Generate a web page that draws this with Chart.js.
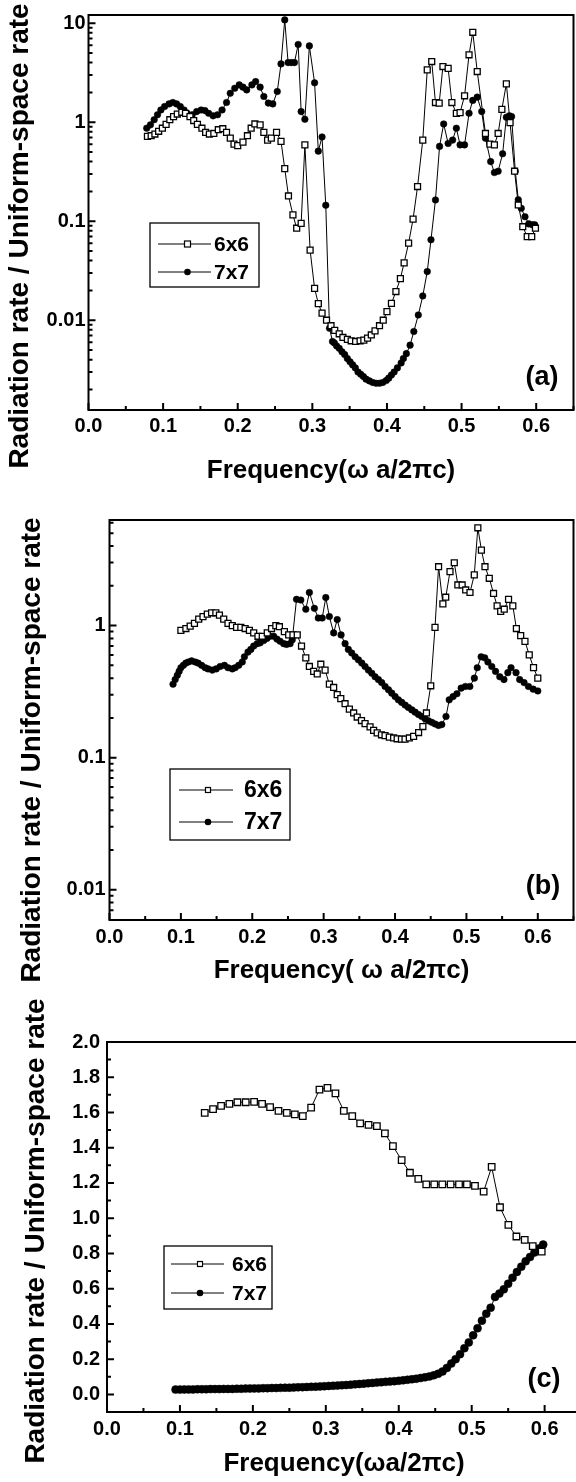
<!DOCTYPE html>
<html>
<head>
<meta charset="utf-8">
<script src="https://cdn.jsdelivr.net/npm/chart.js@4"></script>
<style>
html, body { margin: 0; padding: 0; background: #fff; width: 576px; height: 1482px; overflow: hidden; }
canvas { position: absolute; left: 0; }
</style>
</head>
<body>
<canvas id="pa" width="579" height="490" style="top:0px"></canvas>
<canvas id="pb" width="579" height="500" style="top:490px"></canvas>
<canvas id="pc" width="587" height="492" style="top:990px"></canvas>
<script>
// tick labels
var freqTicks = [0, 0.1, 0.2, 0.3, 0.4, 0.5, 0.6];
var logTicksA = [0.01, 0.1, 1, 10];
var logTicksB = [0.01, 0.1, 1];
var rateTicksC = [0, 0.2, 0.4, 0.6, 0.8, 1.0, 1.2, 1.4, 1.6, 1.8, 2.0];
var seriesNames = ['6x6', '7x7'];

// panel (a) [frequency, rate]
var a6x6 = [[0.079,0.72],[0.084,0.73],[0.089,0.76],[0.094,0.81],[0.099,0.87],[0.104,0.95],[0.109,1.06],[0.114,1.14],[0.119,1.21],[0.125,1.26],
  [0.130,1.23],[0.136,1.14],[0.141,1.04],[0.146,0.95],[0.152,0.87],[0.157,0.79],[0.162,0.76],[0.168,0.77],[0.174,0.84],[0.180,0.86],
  [0.185,0.79],[0.190,0.69],[0.195,0.60],[0.200,0.58],[0.207,0.63],[0.213,0.73],[0.218,0.87],[0.223,0.96],[0.230,0.94],[0.235,0.79],
  [0.240,0.66],[0.245,0.69],[0.252,0.79],[0.258,0.64],[0.263,0.34],[0.268,0.18],[0.274,0.116],[0.279,0.085],[0.285,0.095],[0.290,0.59],
  [0.297,0.051],[0.303,0.021],[0.308,0.0147],[0.313,0.0118],[0.319,0.0100],[0.325,0.0088],[0.330,0.0079],[0.336,0.0073],[0.341,0.0067],[0.347,0.0064],
  [0.352,0.0062],[0.358,0.0061],[0.364,0.0062],[0.369,0.0063],[0.374,0.0066],[0.379,0.0071],[0.384,0.0078],[0.390,0.0088],[0.395,0.0100],[0.400,0.0122],
  [0.406,0.0148],[0.412,0.0195],[0.418,0.0263],[0.423,0.038],[0.429,0.060],[0.435,0.105],[0.441,0.224],[0.448,0.66],[0.454,3.38],[0.460,4.1],
  [0.465,1.58],[0.470,1.56],[0.475,3.65],[0.482,3.5],[0.487,1.58],[0.493,1.23],[0.498,1.25],[0.504,1.85],[0.510,4.8],[0.515,8.1],
  [0.521,3.25],[0.532,0.77],[0.538,0.60],[0.544,0.59],[0.549,0.77],[0.554,1.35],[0.560,2.44],[0.565,0.99],[0.571,0.32],[0.576,0.146],
  [0.582,0.088],[0.588,0.070],[0.594,0.070],[0.599,0.085]];
var a7x7 = [[0.078,0.87],[0.083,0.94],[0.088,1.06],[0.0925,1.19],[0.097,1.33],[0.102,1.44],[0.108,1.53],[0.113,1.58],[0.118,1.53],[0.123,1.44],
  [0.128,1.33],[0.132,1.23],[0.139,1.19],[0.145,1.28],[0.151,1.33],[0.156,1.31],[0.161,1.23],[0.167,1.16],[0.173,1.19],[0.179,1.33],
  [0.185,1.58],[0.190,1.96],[0.196,2.2],[0.202,2.38],[0.207,2.26],[0.212,2.12],[0.219,2.38],[0.224,2.57],[0.230,2.26],[0.235,1.82],
  [0.241,1.56],[0.247,1.53],[0.253,2.04],[0.258,3.88],[0.263,10.8],[0.2675,4.0],[0.272,4.0],[0.276,4.0],[0.281,6.1],[0.285,1.28],
  [0.290,1.07],[0.296,5.9],[0.303,2.5],[0.308,0.51],[0.313,0.71],[0.318,0.145],[0.323,0.0083],[0.327,0.0061],[0.3295,0.0059],[0.3325,0.0055],
  [0.336,0.0052],[0.3397,0.0048],[0.3433,0.0045],[0.3469,0.0041],[0.3505,0.0038],[0.354,0.00354],[0.3576,0.0033],[0.3612,0.0030],[0.3648,0.00285],[0.3684,0.0027],
  [0.372,0.00254],[0.3764,0.00244],[0.381,0.00235],[0.3854,0.00231],[0.390,0.00231],[0.3943,0.00235],[0.399,0.00246],[0.4024,0.0026],[0.406,0.0028],[0.4096,0.0030],
  [0.414,0.0033],[0.419,0.0037],[0.422,0.0041],[0.426,0.0046],[0.431,0.0056],[0.436,0.0077],[0.442,0.0113],[0.448,0.0176],[0.454,0.031],[0.459,0.065],
  [0.465,0.164],[0.4705,0.57],[0.476,0.96],[0.482,0.61],[0.488,0.66],[0.493,0.87],[0.498,0.59],[0.504,0.59],[0.510,1.23],[0.515,1.66],
  [0.521,1.79],[0.527,1.28],[0.532,0.69],[0.539,0.40],[0.544,0.31],[0.549,0.32],[0.555,0.48],[0.560,1.12],[0.564,1.16],[0.567,1.14],
  [0.572,0.32],[0.576,0.165],[0.580,0.135],[0.585,0.111],[0.590,0.094],[0.595,0.092],[0.598,0.092]];

// panel (b)
var b6x6 = [[0.100,0.92],[0.107,0.95],[0.113,0.99],[0.119,1.04],[0.125,1.12],[0.131,1.17],[0.137,1.22],[0.143,1.25],[0.149,1.25],[0.154,1.20],
  [0.160,1.12],[0.166,1.04],[0.172,1.00],[0.178,0.97],[0.184,0.97],[0.190,0.95],[0.196,0.92],[0.202,0.88],[0.208,0.83],[0.214,0.83],
  [0.221,0.88],[0.227,0.95],[0.233,1.00],[0.238,0.98],[0.245,0.90],[0.251,0.85],[0.257,0.85],[0.263,0.85],[0.269,0.70],[0.275,0.57],
  [0.280,0.49],[0.286,0.45],[0.291,0.43],[0.296,0.51],[0.302,0.46],[0.308,0.36],[0.314,0.34],[0.319,0.30],[0.324,0.28],[0.330,0.256],
  [0.336,0.233],[0.342,0.218],[0.347,0.203],[0.353,0.191],[0.358,0.181],[0.365,0.171],[0.370,0.161],[0.375,0.154],[0.381,0.149],[0.386,0.147],
  [0.392,0.143],[0.398,0.141],[0.403,0.139],[0.409,0.138],[0.414,0.138],[0.420,0.141],[0.426,0.145],[0.433,0.155],[0.439,0.172],[0.444,0.218],
  [0.450,0.35],[0.456,0.97],[0.461,2.79],[0.467,1.46],[0.471,1.64],[0.477,2.56],[0.483,2.99],[0.488,2.03],[0.494,2.03],[0.499,1.86],
  [0.505,1.78],[0.511,2.42],[0.516,5.5],[0.521,3.73],[0.526,2.79],[0.532,2.28],[0.538,1.75],[0.543,1.41],[0.548,1.28],[0.553,1.33],
  [0.559,1.58],[0.565,1.41],[0.570,0.95],[0.576,0.84],[0.582,0.76],[0.588,0.60],[0.594,0.48],[0.600,0.40]];
var b7x7 = [[0.089,0.36],[0.092,0.39],[0.095,0.42],[0.0975,0.45],[0.100,0.48],[0.1035,0.50],[0.107,0.52],[0.1105,0.53],[0.115,0.54],[0.120,0.53],
  [0.124,0.52],[0.129,0.50],[0.134,0.48],[0.138,0.47],[0.144,0.46],[0.1495,0.47],[0.155,0.49],[0.161,0.50],[0.166,0.48],[0.172,0.47],
  [0.176,0.48],[0.181,0.50],[0.186,0.53],[0.189,0.58],[0.194,0.63],[0.198,0.66],[0.202,0.70],[0.207,0.73],[0.211,0.74],[0.216,0.77],
  [0.2205,0.80],[0.225,0.83],[0.230,0.83],[0.2345,0.79],[0.239,0.76],[0.244,0.73],[0.248,0.72],[0.253,0.73],[0.256,0.78],[0.262,1.58],
  [0.268,1.56],[0.275,1.33],[0.280,1.78],[0.287,1.35],[0.2925,1.14],[0.298,1.14],[0.303,1.63],[0.308,1.17],[0.314,0.88],[0.319,1.11],
  [0.3244,0.85],[0.330,0.73],[0.3346,0.66],[0.3393,0.62],[0.3441,0.58],[0.3487,0.55],[0.3534,0.52],[0.358,0.49],[0.3627,0.46],[0.3674,0.436],
  [0.372,0.41],[0.3767,0.39],[0.3813,0.37],[0.3861,0.346],[0.3908,0.327],[0.3954,0.308],[0.4001,0.29],[0.4047,0.274],[0.4094,0.262],[0.4141,0.25],
  [0.4187,0.24],[0.4235,0.23],[0.4281,0.221],[0.4328,0.212],[0.4375,0.205],[0.4421,0.197],[0.4468,0.19],[0.4514,0.185],[0.4561,0.18],[0.4609,0.175],
  [0.4655,0.178],[0.4714,0.205],[0.4759,0.274],[0.4813,0.29],[0.4867,0.305],[0.4926,0.336],[0.4985,0.346],[0.5048,0.346],[0.5111,0.40],[0.5152,0.48],
  [0.5206,0.58],[0.5256,0.57],[0.5301,0.53],[0.5355,0.49],[0.5408,0.45],[0.5467,0.41],[0.5526,0.39],[0.558,0.44],[0.5625,0.48],[0.5695,0.44],
  [0.5746,0.39],[0.5807,0.37],[0.5869,0.346],[0.5935,0.33],[0.600,0.32]];

// panel (c)
var c6x6 = [[0.134,1.598],[0.1454,1.619],[0.1564,1.638],[0.1678,1.649],[0.1788,1.658],[0.1902,1.658],[0.2017,1.660],[0.2126,1.649],[0.2236,1.630],[0.2351,1.609],
  [0.2465,1.598],[0.2575,1.589],[0.2684,1.579],[0.2799,1.628],[0.2913,1.730],[0.3023,1.740],[0.3132,1.708],[0.3247,1.609],[0.3362,1.579],[0.3471,1.538],
  [0.3586,1.530],[0.3700,1.523],[0.381,1.481],[0.392,1.409],[0.404,1.330],[0.4153,1.258],[0.4268,1.223],[0.4377,1.192],[0.4487,1.192],[0.4597,1.192],
  [0.4711,1.192],[0.4826,1.192],[0.4935,1.192],[0.5045,1.183],[0.5164,1.151],[0.5274,1.291],[0.5388,1.062],[0.5503,0.962],[0.5613,0.896],[0.5727,0.877],
  [0.5837,0.842],[0.596,0.81]];
var c7x7 = [[0.094,0.027],[0.100,0.027],[0.106,0.028],[0.112,0.028],[0.118,0.028],[0.124,0.029],[0.130,0.029],[0.136,0.029],[0.142,0.030],[0.148,0.030],
  [0.154,0.030],[0.160,0.031],[0.166,0.031],[0.172,0.031],[0.178,0.032],[0.184,0.032],[0.190,0.033],[0.196,0.033],[0.202,0.034],[0.208,0.034],
  [0.214,0.035],[0.220,0.035],[0.226,0.036],[0.232,0.036],[0.238,0.037],[0.244,0.038],[0.250,0.038],[0.256,0.039],[0.262,0.040],[0.268,0.041],
  [0.274,0.042],[0.280,0.043],[0.286,0.044],[0.292,0.045],[0.298,0.046],[0.304,0.048],[0.310,0.049],[0.316,0.050],[0.322,0.052],[0.328,0.053],
  [0.334,0.055],[0.340,0.057],[0.346,0.059],[0.352,0.061],[0.358,0.063],[0.364,0.065],[0.370,0.067],[0.376,0.069],[0.382,0.071],[0.388,0.073],
  [0.394,0.075],[0.400,0.077],[0.406,0.080],[0.412,0.083],[0.418,0.086],[0.424,0.089],[0.430,0.093],[0.436,0.097],[0.442,0.102],[0.448,0.108],
  [0.454,0.117],[0.460,0.130],[0.466,0.150],[0.472,0.175],[0.478,0.200],[0.484,0.228],[0.490,0.262],[0.496,0.295],[0.502,0.335],[0.508,0.375],
  [0.514,0.418],[0.520,0.458],[0.526,0.492],[0.532,0.553],[0.538,0.572],[0.544,0.596],[0.550,0.628],[0.556,0.662],[0.562,0.695],[0.568,0.725],
  [0.574,0.755],[0.580,0.780],[0.586,0.805],[0.592,0.828],[0.598,0.850]];

var FONT = "'Liberation Sans', Arial, Helvetica, sans-serif";
Chart.defaults.font.family = FONT;
Chart.defaults.font.weight = 'bold';
Chart.defaults.color = '#000';

// page-level decoration per canvas: legend box, panel letter, rotated y title
var decor = {
  pa: { yTitle: [20, 236], box: [150, 223, 259, 287], line: [158, 211], mark: 187.5, textX: 214, rows: [244, 272], legFont: 21, sq: 6,
        label: '(a)', labelPos: [542, 378], yMajor: logTicksA, yMinor: 'log' },
  pb: { yTitle: [32, 260], box: [170, 279, 290, 350], line: [179, 233], mark: 208, textX: 244, rows: [300, 332], legFont: 23, sq: 5,
        label: '(b)', labelPos: [543, 397], yMajor: logTicksB, yMinor: 'log' },
  pc: { yTitle: [36, 241], box: [164, 256, 272, 319], line: [171, 224], mark: 200, textX: 232, rows: [274, 303], legFont: 21, sq: 5,
        label: '(c)', labelPos: [544, 390], yMajor: rateTicksC, yMinor: 'lin' }
};

function minorValues(kind, min, max) {
  var out = [];
  if (kind === 'log') {
    for (var e = -4; e <= 2; e++) {
      for (var m = 2; m <= 9; m++) {
        var v = m * Math.pow(10, e);
        if (v > min && v < max) out.push(v);
      }
    }
  } else {
    for (var k = -1; k <= 19; k += 2) out.push(k / 10);
  }
  return out;
}

var decorPlugin = {
  id: 'decor',
  afterDraw: function(chart) {
    var d = decor[chart.canvas.id];
    var ctx = chart.ctx, ca = chart.chartArea;
    var xs = chart.scales.x, ys = chart.scales.y;
    ctx.save();
    ctx.strokeStyle = '#000';
    ctx.fillStyle = '#000';

    // frame
    ctx.lineWidth = 2;
    ctx.strokeRect(ca.left, ca.top, ca.right - ca.left, ca.bottom - ca.top);

    // inward ticks, bottom axis
    ctx.beginPath();
    for (var i = 0; i <= 13; i++) {
      var px = xs.getPixelForValue(i * 0.05);
      var len = i % 2 === 0 ? 7 : 4;
      ctx.moveTo(px, ca.bottom);
      ctx.lineTo(px, ca.bottom - len);
    }
    // inward ticks, left axis
    d.yMajor.forEach(function(v) {
      var py = ys.getPixelForValue(v);
      ctx.moveTo(ca.left, py);
      ctx.lineTo(ca.left + 7, py);
    });
    minorValues(d.yMinor, ys.min, ys.max).forEach(function(v) {
      var py = ys.getPixelForValue(v);
      if (py < ca.top + 1 || py > ca.bottom - 1) return;
      ctx.moveTo(ca.left, py);
      ctx.lineTo(ca.left + 4, py);
    });
    ctx.stroke();

    // legend
    var b = d.box;
    ctx.lineWidth = 1.3;
    ctx.strokeRect(b[0], b[1], b[2] - b[0], b[3] - b[1]);
    ctx.font = 'bold ' + d.legFont + 'px ' + FONT;
    ctx.textAlign = 'left';
    ctx.textBaseline = 'middle';
    for (var r = 0; r < 2; r++) {
      var y = d.rows[r];
      ctx.lineWidth = 1;
      ctx.beginPath();
      ctx.moveTo(d.line[0], y);
      ctx.lineTo(d.line[1], y);
      ctx.stroke();
      if (r === 0) {
        ctx.fillStyle = '#fff';
        ctx.fillRect(d.mark - d.sq / 2, y - d.sq / 2, d.sq, d.sq);
        ctx.lineWidth = 1.2;
        ctx.strokeRect(d.mark - d.sq / 2, y - d.sq / 2, d.sq, d.sq);
        ctx.fillStyle = '#000';
      } else {
        ctx.beginPath();
        ctx.arc(d.mark, y, 3.3, 0, Math.PI * 2);
        ctx.fill();
      }
      ctx.fillText(seriesNames[r], d.textX, y + 1);
    }

    // panel letter
    ctx.font = 'bold 27px ' + FONT;
    ctx.textAlign = 'center';
    ctx.fillText(d.label, d.labelPos[0], d.labelPos[1]);

    // y title
    ctx.translate(d.yTitle[0], d.yTitle[1]);
    ctx.rotate(-Math.PI / 2);
    ctx.font = 'bold 28px ' + FONT;
    ctx.fillText('Radiation rate / Uniform-space rate', 0, 0);
    ctx.restore();
  }
};

function makeDatasets(pts6, pts7, rSq, rCi) {
  function toXY(arr) { return arr.map(function(p) { return { x: p[0], y: p[1] }; }); }
  return [
    { label: seriesNames[0], data: toXY(pts6), showLine: true, borderColor: '#000', borderWidth: 1,
      pointStyle: 'rect', pointRadius: rSq, pointBackgroundColor: '#fff', pointBorderColor: '#000', pointBorderWidth: 1.3 },
    { label: seriesNames[1], data: toXY(pts7), showLine: true, borderColor: '#000', borderWidth: 1,
      pointStyle: 'circle', pointRadius: rCi, pointBackgroundColor: '#000', pointBorderColor: '#000', pointBorderWidth: 0.5 }
  ];
}

function makePanel(id, o) {
  var yIsLog = o.yType === 'logarithmic';
  new Chart(document.getElementById(id), {
    type: 'scatter',
    data: { datasets: makeDatasets(o.s6, o.s7, o.rSq, o.rCi) },
    plugins: [decorPlugin],
    options: {
      responsive: false,
      animation: false,
      events: [],
      devicePixelRatio: 1,
      layout: { padding: { top: o.top, left: 0, right: 0, bottom: 0 } },
      plugins: { legend: { display: false }, tooltip: { enabled: false } },
      scales: {
        x: {
          type: 'linear', min: 0, max: 0.65,
          afterBuildTicks: function(s) { s.ticks = freqTicks.map(function(v) { return { value: v }; }); },
          afterFit: function(s) { s.height = o.xH; },
          grid: { display: false, drawTicks: false },
          border: { display: false },
          ticks: { padding: o.xPad, autoSkip: false, maxRotation: 0, font: { size: 20, weight: 'bold' },
                   callback: function(v) { return v.toFixed(1); } },
          title: { display: true, text: o.xTitle, font: { size: 26, weight: 'bold' }, padding: { top: 0, bottom: o.titlePad } }
        },
        y: {
          type: o.yType, min: o.yMin, max: o.yMax,
          afterBuildTicks: function(s) { s.ticks = o.yTicks.map(function(v) { return { value: v }; }); },
          afterFit: function(s) { s.width = o.yW; },
          grid: { display: false, drawTicks: false },
          border: { display: false },
          ticks: { padding: o.yPad, autoSkip: false, font: { size: 20, weight: 'bold' },
                   callback: function(v) { return yIsLog ? String(v) : v.toFixed(1); } }
        }
      }
    }
  });
}

makePanel('pa', { s6: a6x6, s7: a7x7, rSq: 4.2, rCi: 3.3, top: 15, xH: 80, yW: 88.5, xPad: 4, yPad: 3, titlePad: 4,
  yType: 'logarithmic', yMin: 0.00124, yMax: 12.1, yTicks: logTicksA, xTitle: 'Frequency(\u03c9 a/2\u03c0c)' });
makePanel('pb', { s6: b6x6, s7: b7x7, rSq: 4.2, rCi: 3.3, top: 30, xH: 70, yW: 109.5, xPad: 5, yPad: 4, titlePad: 4,
  yType: 'logarithmic', yMin: 0.0059, yMax: 6.3, yTicks: logTicksB, xTitle: 'Frequency( \u03c9 a/2\u03c0c)' });
makePanel('pc', { s6: c6x6, s7: c7x7, rSq: 4.6, rCi: 4, top: 52, xH: 70, yW: 107, xPad: 5, yPad: 7, titlePad: 3,
  yType: 'linear', yMin: -0.1, yMax: 2.0, yTicks: rateTicksC, xTitle: 'Frequency(\u03c9a/2\u03c0c)' });
</script>
</body>
</html>
